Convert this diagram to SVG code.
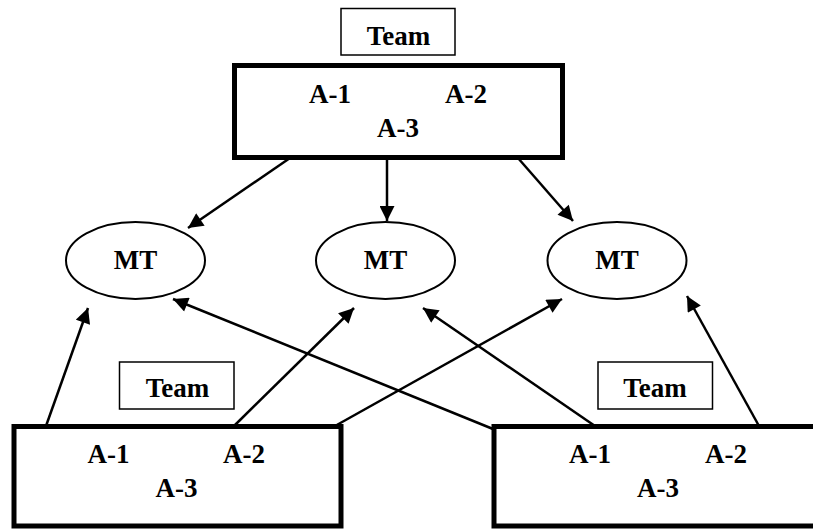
<svg xmlns="http://www.w3.org/2000/svg" width="813" height="529" viewBox="0 0 813 529">
<style>
text{font-family:"Liberation Serif","Times New Roman",serif;font-weight:bold;font-size:27px;fill:#000;text-anchor:middle}
.label{fill:#fff;stroke:#000;stroke-width:1.5}
.box{fill:#fff;stroke:#000;stroke-width:5}
.ell{fill:#fff;stroke:#000;stroke-width:2}
.conn line{stroke:#000;stroke-width:2.5;fill:none}
</style>
<defs>
<marker id="ah" viewBox="0 0 10 10" refX="10" refY="5" markerWidth="16" markerHeight="15" markerUnits="userSpaceOnUse" orient="auto">
<path d="M0,0 L10,5 L0,10 z" fill="#000"/>
</marker>
</defs>
<rect width="813" height="529" fill="#fff"/>
<g id="connectors" class="conn">
<line x1="290" y1="158" x2="188" y2="228" marker-end="url(#ah)"/>
<line x1="387" y1="158" x2="387" y2="221" marker-end="url(#ah)"/>
<line x1="518" y1="158" x2="573" y2="221" marker-end="url(#ah)"/>
<line x1="46" y1="426" x2="88" y2="308" marker-end="url(#ah)"/>
<line x1="234" y1="426" x2="354" y2="308" marker-end="url(#ah)"/>
<line x1="335" y1="426" x2="562" y2="299" marker-end="url(#ah)"/>
<line x1="493" y1="429" x2="173" y2="299" marker-end="url(#ah)"/>
<line x1="595" y1="426" x2="423" y2="308" marker-end="url(#ah)"/>
<line x1="759" y1="426" x2="687" y2="296" marker-end="url(#ah)"/>
</g>
<g id="team-top-label">
<rect class="label" x="341" y="8.5" width="114" height="46.5"/>
<text x="398.5" y="45">Team</text>
</g>
<g id="team-top">
<rect class="box" x="234.5" y="65.5" width="328" height="92"/>
<text x="330" y="103">A-1</text>
<text x="466" y="103">A-2</text>
<text x="398" y="137">A-3</text>
</g>
<g id="mt-left">
<ellipse class="ell" cx="135.5" cy="260.5" rx="69.5" ry="38.5"/>
<text x="135.5" y="269">MT</text>
</g>
<g id="mt-middle">
<ellipse class="ell" cx="385.5" cy="260.5" rx="69.5" ry="38.5"/>
<text x="385.5" y="269">MT</text>
</g>
<g id="mt-right">
<ellipse class="ell" cx="617" cy="260.5" rx="69.5" ry="38.5"/>
<text x="617" y="269">MT</text>
</g>
<g id="team-left-label">
<rect class="label" x="119.5" y="362" width="114.5" height="47"/>
<text x="177.5" y="397">Team</text>
</g>
<g id="team-left">
<rect class="box" x="14" y="426.5" width="327" height="99.5"/>
<text x="108.5" y="463">A-1</text>
<text x="244" y="463">A-2</text>
<text x="176.5" y="497">A-3</text>
</g>
<g id="team-right-label">
<rect class="label" x="598" y="362" width="114.5" height="47"/>
<text x="655" y="397">Team</text>
</g>
<g id="team-right">
<rect class="box" x="494" y="426.5" width="345" height="99.5"/>
<text x="590" y="463">A-1</text>
<text x="726" y="463">A-2</text>
<text x="658" y="497">A-3</text>
</g>
</svg>
